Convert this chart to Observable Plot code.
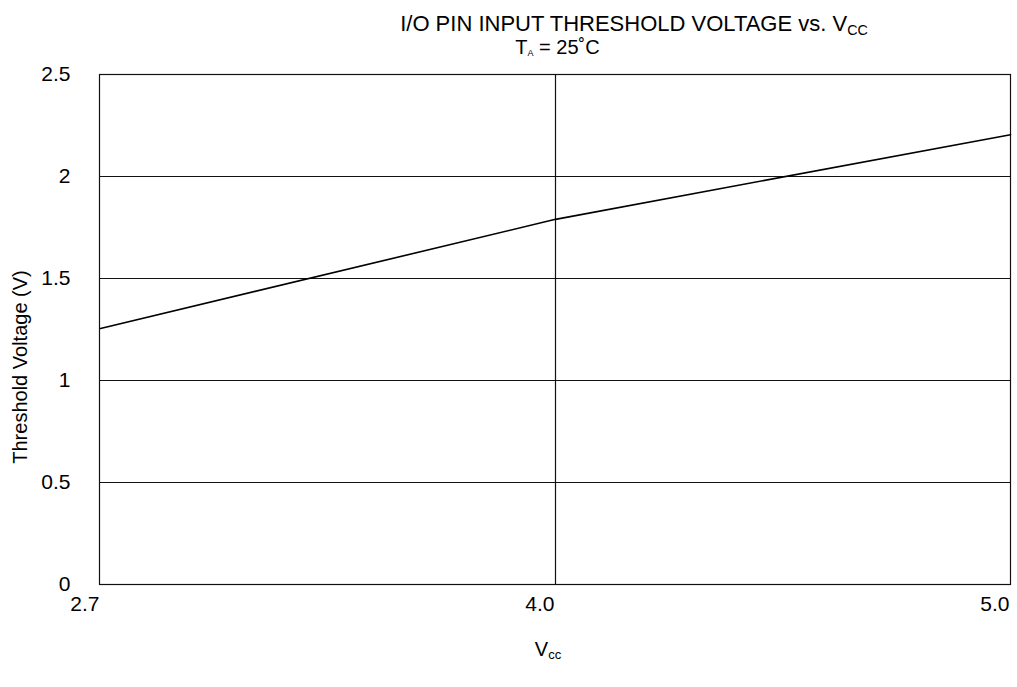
<!DOCTYPE html>
<html>
<head>
<meta charset="utf-8">
<script src="https://cdn.jsdelivr.net/npm/d3@7"></script>
<script src="https://cdn.jsdelivr.net/npm/@observablehq/plot@0.6"></script>
<style>
  html, body { margin: 0; padding: 0; background: #fff; }
  #wrap { position: relative; width: 1017px; height: 687px; font-family: "Liberation Sans", Arial, sans-serif; color: #000; overflow: hidden; }
  .lbl { position: absolute; white-space: nowrap; line-height: 1; }
  sub { font-size: 65%; vertical-align: -0.25em; }
</style>
</head>
<body>
<div id="wrap">
  <div class="lbl" id="title" style="left:0; width:1268px; text-align:center; top:13px; font-size:22px;">I/O PIN INPUT THRESHOLD VOLTAGE vs. V<sub>CC</sub></div>
  <div class="lbl" id="subtitle" style="left:0; width:1115px; text-align:center; top:37px; font-size:20px;">T<sub style="font-size:45%">A</sub> = 25˚C</div>
  <div class="lbl" id="xlabel" style="left:0; width:1096px; text-align:center; top:639px; font-size:20px;">V<sub>cc</sub></div>
  <div class="lbl" id="ylabel" style="left:20px; top:367px; font-size:20px; transform: translate(-50%, -50%) rotate(-90deg);">Threshold Voltage (V)</div>
</div>
<script>
const vccCategories = ["2.7", "4.0", "5.0"];
const thresholdVoltage = [1.255, 1.79, 2.205];
const yTicks = [0, 0.5, 1, 1.5, 2, 2.5];
const verticalGrid = ["4.0"];

const data = vccCategories.map((v, i) => ({vcc: v, vt: thresholdVoltage[i]}));

const chart = Plot.plot({
  width: 1017,
  height: 687,
  marginLeft: 99,
  marginRight: 7,
  marginTop: 74,
  marginBottom: 103,
  style: {fontFamily: "'Liberation Sans', Arial, sans-serif", fontSize: "21px", color: "#000", background: "transparent", overflow: "visible"},
  x: {type: "point", domain: vccCategories, padding: 0, label: null},
  y: {domain: [0, 2.5], ticks: yTicks, label: null},
  marks: [
    Plot.ruleY(yTicks.filter(d => d > 0 && d < 2.5), {stroke: "#111", strokeWidth: 1.2}),
    Plot.ruleX(verticalGrid, {stroke: "#111", strokeWidth: 1.2}),
    Plot.frame({stroke: "#111", strokeWidth: 1.2}),
    Plot.line(data, {x: "vcc", y: "vt", stroke: "#000", strokeWidth: 1.6}),
    Plot.axisY({ticks: yTicks, tickSize: 0, tickPadding: 29, tickFormat: d => String(d), fontSize: 21, label: null}),
    Plot.axisX({tickSize: 0, tickPadding: 12, fontSize: 21, textAnchor: "end", dx: -1, label: null})
  ]
});
document.getElementById("wrap").appendChild(chart);
chart.style.position = "absolute";
chart.style.left = "0";
chart.style.top = "0";
</script>
</body>
</html>
